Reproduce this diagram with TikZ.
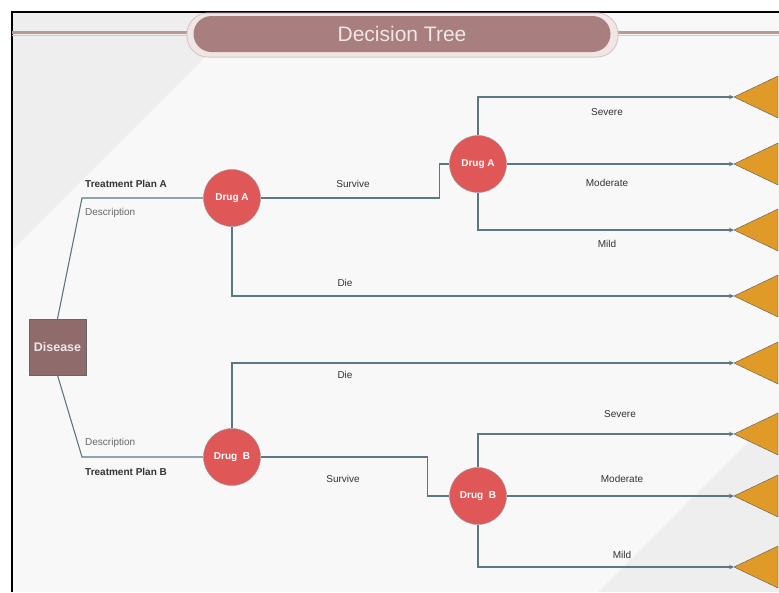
\documentclass[tikz,border=0pt]{standalone}
\usepackage{fontspec}
\setmainfont{Liberation Sans}
\usetikzlibrary{arrows.meta}

\definecolor{panel}{HTML}{F8F8F8}
\definecolor{bgshade}{HTML}{EEEEEE}
\definecolor{rose}{HTML}{A87E7E}
\definecolor{roselight}{HTML}{F1E6E6}
\definecolor{roseedge}{HTML}{DCC6C6}
\definecolor{boxfill}{HTML}{8F6B6B}
\definecolor{drugred}{HTML}{E05758}
\definecolor{wire}{HTML}{5B7880}
\definecolor{leaf}{HTML}{E09A28}
\definecolor{txt}{HTML}{333333}

\tikzset{
  drug/.style={circle, draw=gray!80, fill=drugred, minimum size=57pt, inner sep=0pt,
    text=white, font=\fontsize{10}{12}\selectfont\bfseries},
  branch/.style={draw=wire, line width=1.1pt},
  lbl/.style={text=txt, font=\fontsize{10}{12}\selectfont, inner sep=0pt},
  plan/.style={lbl, anchor=west, font=\fontsize{10}{12}\selectfont\bfseries},
  leafshape/.style={fill=leaf, draw=gray!70!black, line width=0.4pt}
}

\begin{document}
\begin{tikzpicture}[x=1pt, y=-1pt, >={Stealth[length=5pt,width=4.5pt]}]
    \useasboundingbox (0,0) rectangle (779,592);
    \fill[white] (0,0) rectangle (779,592);
    % panel and shading
    \fill[panel] (12,12) rectangle (779,592);
    \fill[bgshade] (12,12) -- (250,12) -- (12,250) -- cycle;
    \fill[bgshade] (779,411) -- (779,592) -- (598,592) -- cycle;
    \draw[black, line width=2.5pt] (12,592) -- (12,12) -- (779,12);

    % title
    \draw[rose!80, line width=2.5pt] (12,32.5) -- (779,32.5);
    \draw[roseedge, line width=1pt] (12,35) -- (779,35);
    \fill[roselight, draw=roseedge, line width=1pt, rounded corners=21pt] (187,13) rectangle (618,57);
    \node[fill=rose, rounded corners=18pt, minimum width=417pt, minimum height=36pt,
      text=roselight, font=\fontsize{21}{24}\selectfont] (title) at (402,34) {Decision Tree};

    % nodes
    \node[draw=gray!80!black, fill=boxfill, minimum width=57pt, minimum height=56pt, inner sep=0pt,
      text=roselight, font=\fontsize{12.5}{14}\selectfont\bfseries] (dis) at (57.5,347) {Disease};
    \node[drug] (drugA) at (232,198) {Drug A};
    \node[drug] (drugB) at (232,457) {Drug~~B};
    \node[drug] (drugA2) at (478,164) {Drug A};
    \node[drug] (drugB2) at (478,496) {Drug~~B};

    % end triangles
    \foreach \i/\y in {1/97, 2/164, 3/230, 4/296, 5/363, 6/434, 7/496, 8/567} {
      \coordinate (t\i) at (734,\y);
      \draw[leafshape] (t\i) -- ++(44,-21) -- ++(0,42) -- cycle;
    }

    % branches
    \coordinate (kA) at (82,198);
    \coordinate (kB) at (82,457);
    \draw[branch] (dis.north) -- (kA) -- (drugA.west);
    \draw[branch] (dis.south) -- (kB) -- (drugB.west);
    \draw[branch] (drugA.east) -- ++(179,0) |- (drugA2.west);
    \draw[branch, ->] (drugA.south) |- (t4);
    \draw[branch, ->] (drugA2.north) |- (t1);
    \draw[branch, ->] (drugA2.east) -- (t2);
    \draw[branch, ->] (drugA2.south) |- (t3);
    \draw[branch, ->] (drugB.north) |- (t5);
    \draw[branch] (drugB.east) -- ++(167,0) |- (drugB2.west);
    \draw[branch, ->] (drugB2.north) |- (t6);
    \draw[branch, ->] (drugB2.east) -- (t7);
    \draw[branch, ->] (drugB2.south) |- (t8);

    % labels
    \node[plan] (planA) at (85,184) {Treatment Plan A};
    \node[lbl, anchor=west, text=gray!80!black] (descA) at (85,213) {Description};
    \node[lbl, anchor=west, text=gray!80!black] (descB) at (85,443) {Description};
    \node[plan] (planB) at (85,472) {Treatment Plan B};
    \node[lbl] (survA) at (353,184) {Survive};
    \node[lbl] (dieA) at (345,283) {Die};
    \node[lbl] (sevA) at (607,112) {Severe};
    \node[lbl] (modA) at (607,183) {Moderate};
    \node[lbl] (milA) at (607,244) {Mild};
    \node[lbl] (dieB) at (345,375) {Die};
    \node[lbl] (survB) at (343,479) {Survive};
    \node[lbl] (sevB) at (620,414) {Severe};
    \node[lbl] (modB) at (622,479) {Moderate};
    \node[lbl] (milB) at (622,555) {Mild};
\end{tikzpicture}
\end{document}
